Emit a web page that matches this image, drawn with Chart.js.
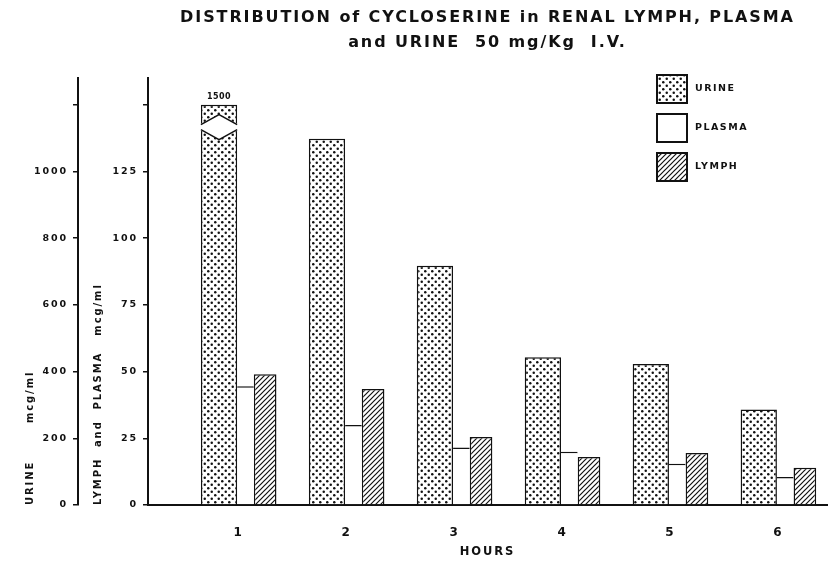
<!DOCTYPE html>
<html><head><meta charset="utf-8">
<script src="https://cdn.jsdelivr.net/npm/chart.js@4.4.0/dist/chart.umd.min.js"></script>
<style>html,body{margin:0;padding:0;background:#fff;} #wrap{width:831px;height:565px;position:relative;}</style>
</head><body><div id="wrap"><canvas id="c"></canvas></div>
<script>
// ---- data ----
const titleLines = ['DISTRIBUTION of CYCLOSERINE in RENAL LYMPH, PLASMA', 'and URINE  50 mg/Kg  I.V.'];
const hours = [1, 2, 3, 4, 5, 6];
const urine = [1500, 1098, 717, 443, 423, 286];
const plasma = [44.5, 30, 21.5, 20, 15.5, 10.5];
const lymph = [49, 43.5, 25.5, 18, 19.5, 14];
const seriesNames = ['URINE', 'PLASMA', 'LYMPH'];
const urineTicks = [0, 200, 400, 600, 800, 1000, 1200];
const urineTickLabels = ['0', '200', '400', '600', '800', '1000', ''];
const lymphTicks = [0, 25, 50, 75, 100, 125, 150];
const lymphTickLabels = ['0', '25', '50', '75', '100', '125', ''];
const xTitle = 'HOURS';
const urineAxisTitle = 'URINE       mcg/ml';
const lymphAxisTitle = 'LYMPH  and  PLASMA   mcg/ml';
const urineAxisMax = 1280;
const lymphAxisMax = 160;
// broken-bar cap (urine at hour 1 is off scale)
const urineCap = urineTicks[urineTicks.length - 1];
const urineBreak = { from: 1125, to: 1140, notch: 30 };

// ---- patterns ----
function makePattern(kind) {
  const c = document.createElement('canvas');
  const s = kind === 'dots' ? 7 : 5;
  c.width = s; c.height = s;
  const g = c.getContext('2d');
  g.fillStyle = '#fff'; g.fillRect(0, 0, s, s);
  g.fillStyle = '#111'; g.strokeStyle = '#111';
  if (kind === 'dots') {
    g.beginPath(); g.arc(1.75, 1.75, 1.25, 0, Math.PI * 2); g.fill();
    g.beginPath(); g.arc(5.25, 5.25, 1.25, 0, Math.PI * 2); g.fill();
  } else if (kind === 'hatch') {
    g.lineWidth = 1.2;
    g.beginPath();
    g.moveTo(-1, 1); g.lineTo(1, -1);
    g.moveTo(0, s); g.lineTo(s, 0);
    g.moveTo(s - 1, s + 1); g.lineTo(s + 1, s - 1);
    g.stroke();
  }
  return g.createPattern(c, 'repeat');
}
const fills = [makePattern('dots'), '#ffffff', makePattern('hatch')];
const widthShares = [0.48, 0.22, 0.30];

const font = (size) => ({ family: "'DejaVu Sans', sans-serif", weight: 'bold', size });

const spacingPlugin = {
  id: 'spacing',
  beforeUpdate(chart) { chart.ctx.letterSpacing = '1.9px'; },
  beforeDraw(chart) { chart.ctx.letterSpacing = '1.9px'; }
};

const widthPlugin = {
  id: 'widths',
  afterDatasetsUpdate(chart) {
    const metas = [0, 1, 2].map(i => chart.getDatasetMeta(i));
    const n = metas[0].data.length;
    for (let j = 0; j < n; j++) {
      const els = metas.map(m => m.data[j]);
      const left = els[0].x - els[0].width / 2;
      const right = els[2].x + els[2].width / 2;
      const total = right - left;
      let cur = left;
      els.forEach((el, k) => {
        const w = total * widthShares[k];
        el.x = cur + w / 2; el.width = w; cur += w;
      });
    }
  }
};

const breakPlugin = {
  id: 'break',
  afterDatasetsDraw(chart) {
    const ctx = chart.ctx;
    const yS = chart.scales.yU;
    urine.forEach((v, i) => {
      if (v <= urineCap) return;
      const el = chart.getDatasetMeta(0).data[i];
      const L = el.x - el.width / 2, R = el.x + el.width / 2, M = el.x;
      const yFrom = yS.getPixelForValue(urineBreak.from);
      const yTo = yS.getPixelForValue(urineBreak.to);
      const yFromM = yS.getPixelForValue(urineBreak.from - urineBreak.notch);
      const yToM = yS.getPixelForValue(urineBreak.to + urineBreak.notch);
      ctx.save();
      ctx.fillStyle = '#fff';
      ctx.beginPath();
      ctx.moveTo(L - 2, yFrom); ctx.lineTo(M, yFromM); ctx.lineTo(R + 2, yFrom);
      ctx.lineTo(R + 2, yTo); ctx.lineTo(M, yToM); ctx.lineTo(L - 2, yTo);
      ctx.closePath(); ctx.fill();
      ctx.strokeStyle = '#111'; ctx.lineWidth = 1.5;
      ctx.beginPath(); ctx.moveTo(L, yFrom); ctx.lineTo(M, yFromM); ctx.lineTo(R, yFrom); ctx.stroke();
      ctx.beginPath(); ctx.moveTo(L, yTo); ctx.lineTo(M, yToM); ctx.lineTo(R, yTo); ctx.stroke();
      ctx.fillStyle = '#111';
      ctx.font = "bold 8px 'DejaVu Sans', sans-serif";
      ctx.letterSpacing = '0.5px';
      ctx.textAlign = 'center'; ctx.textBaseline = 'bottom';
      ctx.fillText(String(v), M, el.y - 4);
      ctx.restore();
    });
  }
};

const legendPlugin = {
  id: 'boxLegend',
  afterDraw(chart) {
    const ctx = chart.ctx;
    const ca = chart.chartArea;
    const x0 = ca.right - 170, y0 = ca.top - 3;
    ctx.save();
    chart.data.datasets.forEach((ds, i) => {
      const y = y0 + i * 39;
      ctx.fillStyle = ds.backgroundColor;
      ctx.fillRect(x0, y, 30, 28);
      ctx.strokeStyle = '#111'; ctx.lineWidth = 2;
      ctx.strokeRect(x0, y, 30, 28);
      ctx.fillStyle = '#111';
      ctx.font = "bold 9.5px 'DejaVu Sans', sans-serif";
      ctx.letterSpacing = '1.5px';
      ctx.textAlign = 'left'; ctx.textBaseline = 'middle';
      ctx.fillText(ds.label, x0 + 38, y + 14);
    });
    ctx.restore();
  }
};

const urinePlotted = urine.map(v => Math.min(v, urineCap));
const toPoints = arr => arr.map((v, i) => ({ x: hours[i], y: v }));

const yCommon = (ticks, labels, titleText, titlePad, width) => ({
  position: 'left',
  min: 0,
  afterBuildTicks: s => { s.ticks = ticks.map(v => ({ value: v })); },
  afterFit: s => { s.width = width; },
  ticks: {
    color: '#111', font: font(9.5), padding: 5,
    callback: (v) => labels[ticks.indexOf(v)]
  },
  grid: { drawOnChartArea: false, drawTicks: true, tickLength: 5, color: '#111', lineWidth: 1.5 },
  border: { display: true, color: '#111', width: 2 },
  title: { display: true, text: titleText, align: 'start', color: '#111', font: font(10), padding: { top: titlePad, bottom: 0 } }
});

new Chart(document.getElementById('c'), {
  type: 'bar',
  data: {
    datasets: [
      { label: seriesNames[0], data: toPoints(urinePlotted), yAxisID: 'yU', backgroundColor: fills[0], borderColor: '#111', borderWidth: { top: 1.5, left: 1.5, right: 1.5, bottom: 0 }, borderSkipped: false },
      { label: seriesNames[1], data: toPoints(plasma), yAxisID: 'yL', backgroundColor: fills[1], borderColor: '#111', borderWidth: { top: 1.5, left: 0, right: 0, bottom: 0 }, borderSkipped: false },
      { label: seriesNames[2], data: toPoints(lymph), yAxisID: 'yL', backgroundColor: fills[2], borderColor: '#111', borderWidth: { top: 1.5, left: 1.5, right: 1.5, bottom: 0 }, borderSkipped: false }
    ]
  },
  options: {
    responsive: true,
    maintainAspectRatio: false,
    animation: false,
    layout: { padding: { left: 0, right: 4, top: 0, bottom: 0 } },
    categoryPercentage: 0.70,
    barPercentage: 1.0,
    plugins: {
      legend: { display: false },
      tooltip: { enabled: false },
      title: {
        display: true, fullSize: false, text: titleLines, color: '#111', font: { ...font(16), lineHeight: 1.5625 },
        padding: { top: 5.5, bottom: 22.5 }
      }
    },
    scales: {
      x: {
        type: 'linear', min: 0.16, max: 6.45, offset: false,
        afterBuildTicks: s => { s.ticks = hours.map(v => ({ value: v })); },
        afterFit: s => { s.height = 60; },
        ticks: { color: '#111', font: font(12), padding: 21, callback: v => String(v) },
        grid: { display: false, drawTicks: false },
        border: { display: true, color: '#111', width: 2 },
        title: { display: true, text: xTitle, color: '#111', font: font(11.5), padding: { top: 0, bottom: 6 } }
      },
      yL: { ...yCommon(lymphTicks, lymphTickLabels, lymphAxisTitle, 14.5, 70), max: lymphAxisMax, weight: 0 },
      yU: { ...yCommon(urineTicks, urineTickLabels, urineAxisTitle, 24.5, 78), max: urineAxisMax, weight: 1 }
    }
  },
  plugins: [spacingPlugin, widthPlugin, breakPlugin, legendPlugin]
});
</script>
</body></html>
